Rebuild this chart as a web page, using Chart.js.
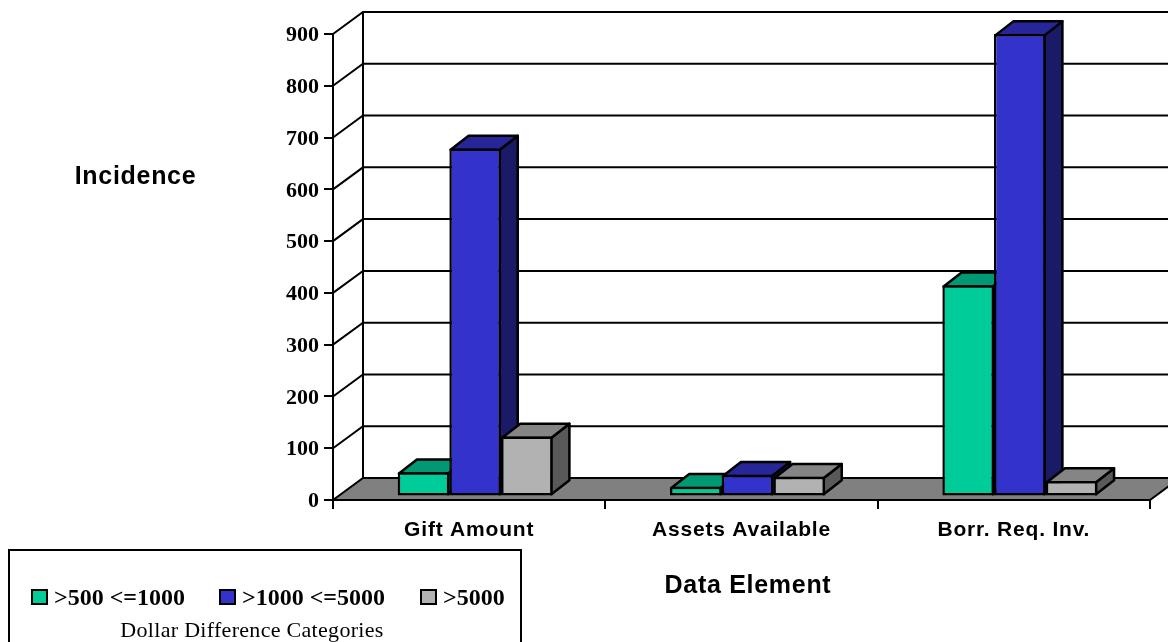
<!DOCTYPE html>
<html>
<head>
<meta charset="utf-8">
<title>Incidence by data element</title>
<script src="https://cdn.jsdelivr.net/npm/chart.js@4/dist/chart.umd.min.js"></script>
<style>
  html, body { margin: 0; padding: 0; background: #fff; overflow: hidden; }
  canvas { display: block; }
</style>
</head>
<body>
<canvas id="main-chart" width="1168" height="642"></canvas>
<script>
const categories = ['Gift Amount', 'Assets Available', 'Borr. Req. Inv.'];
const seriesNames = ['>500 <=1000', '>1000 <=5000', '>5000'];
const lowBand = [47, 19, 408];
const midBand = [672, 42, 893];
const highBand = [116, 38, 30];
const yTicks = [0, 100, 200, 300, 400, 500, 600, 700, 800, 900];

const FRONT = ['#00cc99', '#3333cc', '#b2b2b2'];
const TOP = ['#009973', '#262699', '#858585'];
const SIDE = ['#006d52', '#1a1a66', '#595959'];

const SANS = "'Liberation Sans', Arial, sans-serif";
const SERIF = "'Liberation Serif', 'Times New Roman', serif";

// floor and wall depth, bar depth, and how far bars sit behind the front plane
const WALL = { dx: 30, dy: 22 };
const BAR = { dx: 18, dy: 14 };
const INSET = { dx: 6, dy: 3.5 };
const BAR_LINE = 2.5;

function poly(ctx, pts, fill) {
  ctx.beginPath();
  pts.forEach((p, i) => (i ? ctx.lineTo(p[0], p[1]) : ctx.moveTo(p[0], p[1])));
  ctx.closePath();
  if (fill) {
    ctx.fillStyle = fill;
    ctx.fill();
  }
  ctx.stroke();
}

// category labels are set a little wide and value labels a little low;
// the scales have no option for either
const labelTweakPlugin = {
  id: 'labelTweak',
  afterLayout(chart) {
    const { ctx, scales: { x, y } } = chart;
    const drawX = x.drawLabels;
    x.drawLabels = function (area) {
      ctx.letterSpacing = '0.8px';
      drawX.call(this, area);
      ctx.letterSpacing = '0px';
    };
    const drawY = y.drawLabels;
    y.drawLabels = function (area) {
      ctx.save();
      ctx.translate(0, 1.5);
      drawY.call(this, area);
      ctx.restore();
    };
  },
};

// back wall, floor and the diagonal grid lines
const roomPlugin = {
  id: 'room',
  beforeDatasetsDraw(chart) {
    const { ctx, chartArea: a, scales: { y } } = chart;
    const x0 = a.left, x1 = a.right;
    ctx.save();
    ctx.strokeStyle = '#000';
    ctx.lineWidth = 2;
    yTicks.forEach(v => {
      if (v === 0) return;
      const py = y.getPixelForValue(v);
      ctx.beginPath();
      ctx.moveTo(x0, py);
      ctx.lineTo(x0 + WALL.dx, py - WALL.dy);
      ctx.lineTo(x1 + WALL.dx, py - WALL.dy);
      ctx.stroke();
    });
    const by = y.getPixelForValue(0);
    ctx.beginPath();
    ctx.moveTo(x0 + WALL.dx, y.getPixelForValue(900) - WALL.dy);
    ctx.lineTo(x0 + WALL.dx, by - WALL.dy);
    ctx.stroke();
    poly(ctx, [
      [x0, by],
      [x0 + WALL.dx, by - WALL.dy],
      [x1 + WALL.dx, by - WALL.dy],
      [x1, by],
    ], '#808080');
    ctx.restore();
  },
};

// side and top faces go down left to right, the library then paints the front faces over them
const extrudePlugin = {
  id: 'extrude',
  beforeDatasetsDraw(chart) {
    const { ctx } = chart;
    ctx.save();
    ctx.translate(INSET.dx, -INSET.dy);
    ctx.save();
    ctx.strokeStyle = '#000';
    ctx.lineWidth = BAR_LINE;
    ctx.lineJoin = 'round';
    // bar borders are stroked inside the bar, so the faces start half a line in
    const t = BAR_LINE / 2;
    categories.forEach((_, c) => {
      seriesNames.forEach((_, i) => {
        const bar = chart.getDatasetMeta(i).data[c];
        const props = bar.getProps(['x', 'y', 'base', 'width'], true);
        const y = props.y + t, base = props.base - t;
        const l = props.x - props.width / 2 + t, r = props.x + props.width / 2 - t;
        poly(ctx, [[r, y], [r + BAR.dx, y - BAR.dy], [r + BAR.dx, base - BAR.dy], [r, base]], SIDE[i]);
        poly(ctx, [[l, y], [l + BAR.dx, y - BAR.dy], [r + BAR.dx, y - BAR.dy], [r, y]], TOP[i]);
      });
    });
    ctx.restore();
  },
  afterDatasetsDraw(chart) {
    chart.ctx.restore();
  },
};

// axis captions and the boxed legend
const captionPlugin = {
  id: 'captions',
  afterDraw(chart) {
    const { ctx } = chart;
    ctx.save();
    ctx.fillStyle = '#000';
    ctx.textBaseline = 'middle';
    ctx.textAlign = 'center';
    ctx.letterSpacing = '0.7px';
    ctx.font = `bold 25px ${SANS}`;
    ctx.fillText('Incidence', 135.5, 177);
    ctx.fillText('Data Element', 748, 586);

    ctx.strokeStyle = '#000';
    ctx.lineWidth = 2;
    ctx.strokeRect(9, 550, 512, 110);

    const swatchX = [32, 220, 421];
    ctx.letterSpacing = '0px';
    ctx.textAlign = 'left';
    ctx.font = `bold 24px ${SERIF}`;
    seriesNames.forEach((name, i) => {
      ctx.fillStyle = FRONT[i];
      ctx.fillRect(swatchX[i], 590, 15, 14);
      ctx.strokeRect(swatchX[i], 590, 15, 14);
      ctx.fillStyle = '#000';
      ctx.fillText(name, swatchX[i] + 22, 599);
    });
    ctx.textAlign = 'center';
    ctx.letterSpacing = '0.3px';
    ctx.font = `22px ${SERIF}`;
    ctx.fillText('Dollar Difference Categories', 252, 631);
    ctx.restore();
  },
};

const seriesValues = [lowBand, midBand, highBand];

new Chart(document.getElementById('main-chart'), {
  type: 'bar',
  data: {
    labels: categories,
    datasets: seriesValues.map((values, i) => ({
      label: seriesNames[i],
      data: values,
      backgroundColor: FRONT[i],
      borderColor: '#000',
      borderWidth: BAR_LINE,
      borderSkipped: false,
      clip: false,
    })),
  },
  plugins: [labelTweakPlugin, roomPlugin, extrudePlugin, captionPlugin],
  options: {
    responsive: false,
    animation: false,
    layout: { padding: { top: 34, right: 18, bottom: 0, left: 0 } },
    barPercentage: 1,
    categoryPercentage: 0.569,
    plugins: { legend: { display: false }, tooltip: { enabled: false } },
    scales: {
      x: {
        afterFit: s => { s.height = 142; },
        border: { color: '#000', width: 2 },
        grid: { drawOnChartArea: false, color: '#000', lineWidth: 2, tickLength: 9 },
        ticks: { color: '#000', padding: 9, maxRotation: 0, font: { family: SANS, size: 21, weight: 'bold' } },
      },
      y: {
        min: 0,
        max: 900,
        afterFit: s => { s.width = 333; },
        afterBuildTicks: s => { s.ticks = yTicks.map(value => ({ value })); },
        border: { color: '#000', width: 2 },
        grid: { drawOnChartArea: false, color: '#000', lineWidth: 2, tickLength: 9 },
        ticks: { color: '#000', padding: 5, font: { family: SERIF, size: 22, weight: 'bold' } },
      },
    },
  },
});
</script>
</body>
</html>
